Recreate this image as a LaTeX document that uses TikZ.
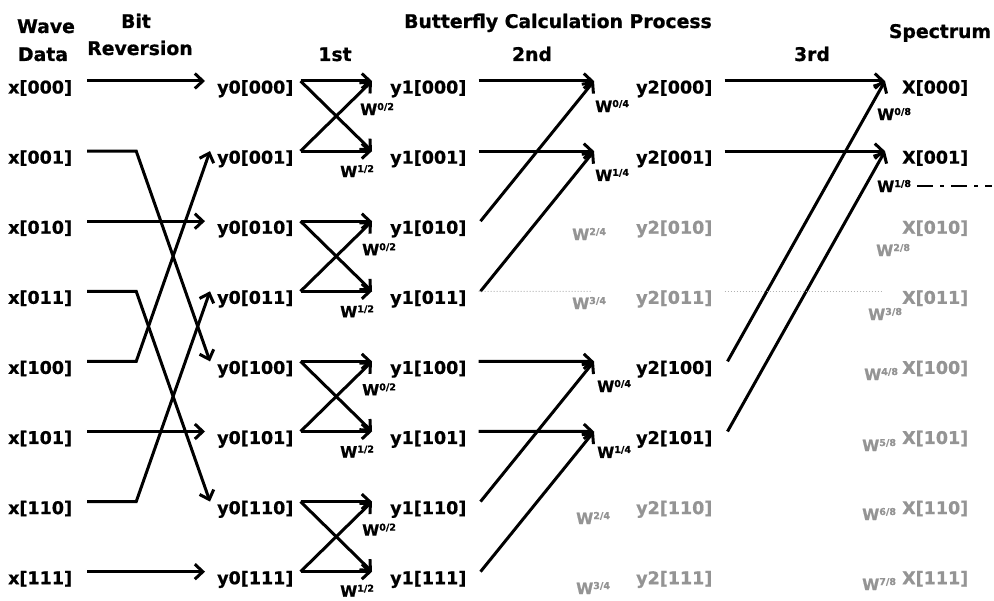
\documentclass[tikz,border=0pt]{standalone}
\usepackage{fontspec}
\setmainfont{DejaVu Sans}[BoldFeatures={FakeBold=0.8}]
\usetikzlibrary{arrows.meta}

% twiddle factor label: W with a small raised exponent
\newcommand\Wf[1]{W\raisebox{5pt}{\fontsize{9.5}{10}\selectfont #1}}

\tikzset{
  lab/.style={font=\bfseries\fontsize{17.5}{18}\selectfont, inner sep=0pt,
              anchor=west, text height=25pt, text depth=0pt},
  faded/.style={lab, text=black!42},
  head/.style={font=\bfseries\fontsize{18.8}{20}\selectfont, inner sep=0pt, anchor=base},
  wl/.style={font=\bfseries\fontsize{15.5}{16}\selectfont, inner sep=0pt, anchor=west},
  fadedw/.style={wl, text=black!42},
  wire/.style={line width=3pt, line cap=butt},
  arr/.style={wire, -{Straight Barb[length=8pt,width=15pt]}},
  ghost/.style={line width=1pt, black!30, dotted},
  dashdot/.style={line width=2.2pt, dash pattern=on 16pt off 7pt on 4pt off 7pt},
}

\begin{document}
\begin{tikzpicture}[x=1pt,y=-1pt]
\useasboundingbox (0,0) rectangle (994,601);

% column headings
\node[head] (hwave) at (46,33) {Wave};
\node[head] (hdata) at (43,61) {Data};
\node[head] (hbit)  at (136,28) {Bit};
\node[head] (hrev)  at (140,55) {Reversion};
\node[head] (hbfly) at (558,28) {Butterfly Calculation Process};
\node[head] (h1st)  at (335,61) {1st};
\node[head] (h2nd)  at (532,61) {2nd};
\node[head] (h3rd)  at (812,61) {3rd};
\node[head] (hspec) at (940,38) {Spectrum};

% input samples, bit-reversed samples and first-stage results
\foreach \b [count=\i from 0] in {000,001,010,011,100,101,110,111} {
  \pgfmathsetmacro\ry{81+70.1*\i}
  \node[lab] (x\i) at (8,\ry)   {x[\b]};
  \node[lab] (p\i) at (217,\ry) {y0[\b]};
  \node[lab] (q\i) at (390,\ry) {y1[\b]};
}

% second-stage results
\node[lab]   (s0) at (636,81)    {y2[000]};
\node[lab]   (s1) at (636,151.1) {y2[001]};
\node[faded] (s2) at (636,221.2) {y2[010]};
\node[faded] (s3) at (636,291.3) {y2[011]};
\node[lab]   (s4) at (636,361.4) {y2[100]};
\node[lab]   (s5) at (636,431.5) {y2[101]};
\node[faded] (s6) at (636,501.6) {y2[110]};
\node[faded] (s7) at (636,571.7) {y2[111]};

% spectrum
\node[lab]   (f0) at (902,81)    {X[000]};
\node[lab]   (f1) at (902,151.1) {X[001]};
\node[faded] (f2) at (902,221.2) {X[010]};
\node[faded] (f3) at (902,291.3) {X[011]};
\node[faded] (f4) at (902,361.4) {X[100]};
\node[faded] (f5) at (902,431.5) {X[101]};
\node[faded] (f6) at (902,501.6) {X[110]};
\node[faded] (f7) at (902,571.7) {X[111]};

% bit reversion
\foreach \i in {0,2,5,7}
  \draw[arr] ([xshift=15pt]x\i.east) -- ([xshift=-12pt]p\i.west);
\draw[arr] ([xshift=15pt]x1.east) -- ++(49,0) -- ([xshift=-7pt]p4.west);
\draw[arr] ([xshift=15pt]x4.east) -- ++(49,0) -- ([xshift=-7pt]p1.west);
\draw[arr] ([xshift=15pt]x3.east) -- ++(49,0) -- ([xshift=-7pt]p6.west);
\draw[arr] ([xshift=15pt]x6.east) -- ++(49,0) -- ([xshift=-7pt]p3.west);

% first butterfly stage
\foreach \a/\b in {0/1,2/3,4/5,6/7} {
  \draw[arr] ([xshift=7pt]p\a.east) -- ([xshift=-18pt]q\a.west);
  \draw[arr] ([xshift=7pt]p\a.east) -- ([xshift=-18pt]q\b.west);
  \draw[arr] ([xshift=7pt]p\b.east) -- ([xshift=-18pt]q\a.west);
  \draw[arr] ([xshift=7pt]p\b.east) -- ([xshift=-18pt]q\b.west);
}
\node[wl] (wa0) at (360,109)   {\Wf{0/2}};
\node[wl] (wb0) at (340,171.1) {\Wf{1/2}};
\node[wl] (wa1) at (362,249.2) {\Wf{0/2}};
\node[wl] (wb1) at (340,311.3) {\Wf{1/2}};
\node[wl] (wa2) at (362,389.4) {\Wf{0/2}};
\node[wl] (wb2) at (340,451.5) {\Wf{1/2}};
\node[wl] (wa3) at (362,529.6) {\Wf{0/2}};
\node[wl] (wb3) at (340,590.7) {\Wf{1/2}};

% second butterfly stage
\foreach \a/\b/\c/\d in {0/1/2/3,4/5/6/7} {
  \draw[arr] ([xshift=12pt]q\a.east) -- ([xshift=-42pt]s\a.west);
  \draw[arr] ([xshift=12pt]q\b.east) -- ([xshift=-42pt]s\b.west);
  \draw[arr] ([xshift=14pt]q\c.east) -- ([xshift=-42pt]s\a.west);
  \draw[arr] ([xshift=14pt]q\d.east) -- ([xshift=-42pt]s\b.west);
}
\draw[ghost] ([xshift=12pt]q3.east) -- ([xshift=-44pt]s3.west);
\node[wl]     (v0) at (595,106) {\Wf{0/4}};
\node[wl]     (v1) at (595,175) {\Wf{1/4}};
\node[fadedw] (v2) at (572,234) {\Wf{2/4}};
\node[fadedw] (v3) at (572,303) {\Wf{3/4}};
\node[wl]     (v4) at (597,386) {\Wf{0/4}};
\node[wl]     (v5) at (597,452) {\Wf{1/4}};
\node[fadedw] (v6) at (576,518) {\Wf{2/4}};
\node[fadedw] (v7) at (576,588) {\Wf{3/4}};

% third butterfly stage
\draw[arr] ([xshift=12pt]s0.east) -- ([xshift=-17pt]f0.west);
\draw[arr] ([xshift=12pt]s1.east) -- ([xshift=-17pt]f1.west);
\draw[arr] ([xshift=15pt]s4.east) -- ([xshift=-17pt]f0.west);
\draw[arr] ([xshift=15pt]s5.east) -- ([xshift=-17pt]f1.west);
\draw[ghost] ([xshift=12pt]s3.east) -- ([xshift=-19pt]f3.west);
\node[wl]     (u0) at (877,114) {\Wf{0/8}};
\node[wl]     (u1) at (877,186) {\Wf{1/8}};
\node[fadedw] (u2) at (876,250) {\Wf{2/8}};
\node[fadedw] (u3) at (868,314) {\Wf{3/8}};
\node[fadedw] (u4) at (864,374) {\Wf{4/8}};
\node[fadedw] (u5) at (862,445) {\Wf{5/8}};
\node[fadedw] (u6) at (862,514) {\Wf{6/8}};
\node[fadedw] (u7) at (862,584) {\Wf{7/8}};

% continuation mark
\coordinate (cont) at (992,186);
\draw[dashdot] ([xshift=6pt]u1.east) -- (cont);
\end{tikzpicture}
\end{document}
